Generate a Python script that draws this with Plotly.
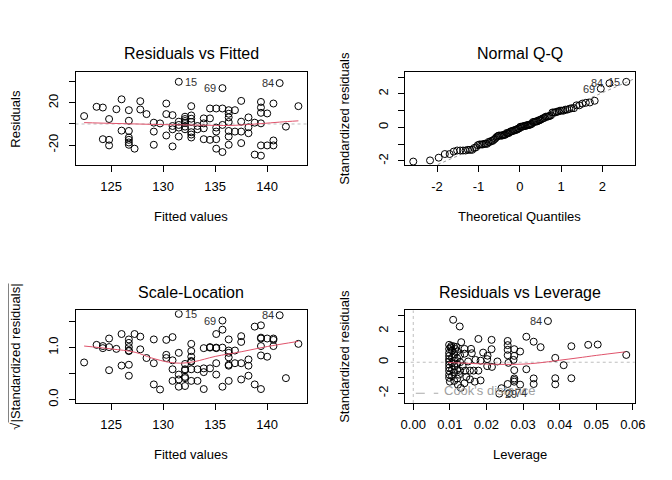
import numpy as np
import plotly.graph_objects as go
from statistics import NormalDist

# ---------------- data ----------------
fitted = [122.4, 123.6, 124.2, 124.8, 124.2, 124.8, 124.8, 125.5, 126.0, 126.7,
          126.7, 126.0, 126.7, 126.7, 126.7, 126.7, 126.7, 127.25, 127.8, 127.8,
          128.4, 129.1, 129.1, 129.1, 129.7, 130.3, 130.3, 130.3, 130.9, 130.9,
          130.9, 130.9, 131.5, 131.5, 131.5, 131.5, 131.5, 132.1, 132.1, 132.1,
          132.1, 132.1, 132.1, 132.7, 132.7, 132.7, 132.7, 132.7, 132.7, 132.7,
          133.3, 133.3, 133.9, 133.9, 133.9, 133.9, 134.5, 134.5, 134.5, 135.1,
          135.1, 135.1, 135.1, 135.1, 135.7, 135.7, 135.7, 135.7, 136.3, 136.3,
          136.3, 136.3, 136.3, 136.3, 136.3, 136.9, 136.9, 137.5, 137.5, 137.5,
          137.5, 138.2, 138.2, 138.2, 138.8, 138.8, 139.4, 139.4, 139.4, 139.4,
          139.4, 139.4, 140.0, 140.0, 140.6, 140.6, 140.6, 141.2, 141.8, 143.0]
resid = [7.5, 16.3, 15.6, 4.7, -14.4, -15.0, -20.3, 14.0, 23.4, 13.1,
         3.1, -6.3, -6.6, -12.8, -15.0, -17.5, -19.7, -23.4, 21.6, 13.75,
         9.4, 1.25, -7.2, -19.7, 0.55, 19.4, 9.4, -10.9, 8.4, -1.9,
         -5.0, -21.25, 40.0, 2.2, -0.9, -3.4, -11.9, 6.9, 4.7, 2.8,
         1.0, -2.5, -5.0, 16.9, 8.1, 5.0, 1.9, -7.8, -10.0, -12.8,
         -1.9, -5.0, 5.3, 0.6, -4.1, -14.4, 14.7, 5.3, -15.0, 14.7,
         -3.4, -7.2, -14.4, -23.4, 34.0, 14.7, -0.9, -26.6, 13.1, 9.7,
         6.25, 1.9, -6.6, -11.9, -19.7, 13.1, -7.2, 21.9, 2.2, -7.2,
         -18.1, 6.25, -3.1, -8.75, 1.25, -29.0, 20.9, 15.6, 10.6, 0.6,
         -20.3, -30.0, 10.0, -20.3, 19.4, -15.6, -20.3, 38.75, -2.5, 16.9]
outlier_names = ["15", "84", "69"]          # largest |residual| first

smooth_rf_x = [122.4, 125.0, 127.5, 130.0, 132.5, 135.0, 136.5, 138.0, 139.5, 141.2, 143.0]
smooth_rf_y = [1.3, 0.6, 0.0, -0.6, -0.9, -1.3, -1.4, -0.6, 0.4, 1.8, 3.0]

smooth_sl_x = [122.4, 125.0, 127.3, 128.9, 130.5, 131.7, 133.0, 135.0, 137.5, 140.0, 143.0]
smooth_sl_y = [1.03, 0.975, 0.91, 0.80, 0.72, 0.70, 0.73, 0.83, 0.92, 1.02, 1.12]

leverage = [0.0109, 0.0127, 0.0368,
            0.0098, 0.0104, 0.0111, 0.0118, 0.0131, 0.0140, 0.0158, 0.0178, 0.0191, 0.0203,
            0.0214, 0.0214, 0.0258, 0.0258, 0.0258, 0.0258, 0.0276, 0.0276, 0.0292, 0.0309,
            0.0329, 0.0348, 0.0432, 0.0478, 0.0504, 0.0582, 0.0388,
            0.0098, 0.0098, 0.0098, 0.0098, 0.0098, 0.0098, 0.0098, 0.0098, 0.0098, 0.0098,
            0.0106, 0.0106, 0.0106, 0.0106, 0.0106,
            0.0112, 0.0112, 0.0112, 0.0112, 0.0112,
            0.0120, 0.0120, 0.0120, 0.0120, 0.0120, 0.0122,
            0.0128, 0.0128, 0.0128, 0.0130,
            0.0140, 0.0160, 0.0150, 0.0170, 0.0184, 0.0142, 0.0155, 0.0165, 0.0178, 0.0145,
            0.0140, 0.0168, 0.0184, 0.0202, 0.0202, 0.0215,
            0.0230, 0.0260, 0.0274, 0.0276, 0.0309,
            0.0276, 0.0276, 0.0276, 0.0258, 0.0292, 0.0329, 0.0329, 0.0241,
            0.0235, 0.0262,
            0.0388, 0.0388, 0.0411, 0.0432,
            0.0102, 0.0115, 0.0125, 0.0100, 0.0135, 0.0155]
std_resid_lev = [2.73, 2.30, 2.65,
                 1.12, 1.05, 1.02, 0.98, 1.29, 0.86, 0.86, 1.50, 0.62, 0.42,
                 1.44, 0.84, 1.37, 1.10, 0.80, 0.45, 0.84, 0.41, 0.69, 1.64,
                 1.32, 0.97, 1.03, 1.12, 1.14, 0.47, 0.28,
                 0.85, 0.60, 0.40, 0.20, 0.05, -0.15, -0.35, -0.55, -0.80, -1.00,
                 0.75, 0.30, -0.05, -0.45, -0.90,
                 0.50, 0.10, -0.25, -0.65, -1.20,
                 0.70, 0.25, -0.10, -0.50, -1.05, -1.45,
                 0.45, 0.00, -0.55, -1.65,
                 0.55, 0.58, 0.05, 0.15, 0.10, -0.54, -0.54, -0.54, -0.54, -0.95,
                 -1.35, -1.25, -1.17, 0.20, -0.25, -0.30,
                 0.05, -0.04, 0.15, -0.51, -0.45,
                 -1.04, -1.14, -1.25, -1.40, -1.44, -1.04, -1.40, -1.67,
                 -2.02, -1.98,
                 -1.03, -1.42, -0.19, -1.03,
                 0.95, 0.85, -0.80, -1.25, -0.25, -1.10]
cook_names = ["84", "74", "29"]             # largest Cook's distance first

smooth_lev_x = [0.0095, 0.015, 0.020, 0.025, 0.030, 0.034, 0.040, 0.045, 0.050, 0.058]
smooth_lev_y = [-0.02, -0.07, -0.12, -0.14, -0.12, -0.05, 0.13, 0.28, 0.44, 0.67]

x_ticks_fit = [125, 130, 135, 140]
x_ticks_qq = [-2, -1, 0, 1, 2]
x_ticks_lev = [0.00, 0.01, 0.02, 0.03, 0.04, 0.05, 0.06]

# ---------------- derived quantities ----------------
f = np.array(fitted)
r = np.array(resid)
n = len(r)
s = np.sqrt(np.sum(r ** 2) / (n - 2))
rs = r / s
sl = np.sqrt(np.abs(rs))
order = np.argsort(rs)
theo = np.empty(n)
nd = NormalDist()
theo[order] = [nd.inv_cdf((i + 0.5) / n) for i in range(n)]

lev = np.array(leverage)
rsl = np.array(std_resid_lev)
cook = rsl ** 2 * lev / (2 * (1 - lev))


def ext(lo, hi, fr=0.04):
    d = hi - lo
    return [lo - fr * d, hi + fr * d]


rng_fx = ext(f.min(), f.max())
rng_ry = ext(*ext(r.min(), r.max(), 0.08))
rng_qx = ext(theo.min(), theo.max())
rng_qy = ext(rs.min(), rs.max() + 0.075 * (rs.max() - rs.min()))
rng_sy = ext(0, sl.max())
rng_lx = ext(0, lev.max())
rng_ly = ext(*ext(rsl.min(), rsl.max(), 0.08))

# ---------------- layout geometry (pixels) ----------------
W, H = 672, 480
FONT = "Liberation Sans"
LX = (65, 301.7)
RX = (401.7, 637.0)
TY = (65, 158.3)
BY = (305, 398.3)
DY = -5  # vertical correction for annotation text


def px(x):
    return x / W


def py(y):
    return 1 - y / H


RED = "#DF536B"
GRAY = "#BEBEBE"

fig = go.Figure()
mk = dict(symbol="circle-open", size=7, color="black", line=dict(width=1, color="black"))

# P1
fig.add_trace(go.Scatter(x=f, y=r, mode="markers", marker=mk, xaxis="x", yaxis="y"))
fig.add_trace(go.Scatter(x=smooth_rf_x, y=smooth_rf_y, mode="lines", line=dict(color=RED, width=1, shape="spline"),
                         xaxis="x", yaxis="y"))
# P2
qq_q = np.percentile(rs, [25, 75])
z_q = np.array([nd.inv_cdf(0.25), nd.inv_cdf(0.75)])
slope = (qq_q[1] - qq_q[0]) / (z_q[1] - z_q[0])
icpt = qq_q[0] - slope * z_q[0]
lx = np.array(rng_qx)
fig.add_trace(go.Scatter(x=lx, y=icpt + slope * lx, mode="lines", line=dict(color="#999999", width=1, dash="dot"),
                         xaxis="x2", yaxis="y2"))
fig.add_trace(go.Scatter(x=theo, y=rs, mode="markers", marker=mk, xaxis="x2", yaxis="y2"))
# P3
fig.add_trace(go.Scatter(x=f, y=sl, mode="markers", marker=mk, xaxis="x3", yaxis="y3"))
fig.add_trace(go.Scatter(x=smooth_sl_x, y=smooth_sl_y, mode="lines", line=dict(color=RED, width=1, shape="spline"),
                         xaxis="x3", yaxis="y3"))
# P4
fig.add_trace(go.Scatter(x=lev, y=rsl, mode="markers", marker=mk, xaxis="x4", yaxis="y4"))
fig.add_trace(go.Scatter(x=smooth_lev_x, y=smooth_lev_y, mode="lines", line=dict(color=RED, width=1, shape="spline"),
                         xaxis="x4", yaxis="y4"))

axis_common = dict(showline=True, mirror=True, linecolor="black", linewidth=1, ticks="outside", ticklen=6,
                   tickwidth=1, tickcolor="black", showgrid=False, zeroline=False,
                   tickfont=dict(family=FONT, size=13, color="black"), ticklabelstandoff=3)
yaxis_common = dict(axis_common, tickangle=-90, ticklabelstandoff=5)

layout = dict(
    width=W, height=H, margin=dict(l=0, r=0, t=0, b=0), autosize=False,
    paper_bgcolor="white", plot_bgcolor="white", showlegend=False,
    font=dict(family=FONT, size=13, color="black"),
    xaxis=dict(axis_common, domain=[px(LX[0]), px(LX[1])], range=rng_fx, anchor="y",
               tickvals=x_ticks_fit, ticktext=[str(v) for v in x_ticks_fit]),
    yaxis=dict(yaxis_common, domain=[py(TY[1]), py(TY[0])], range=rng_ry, anchor="x",
               tickvals=[-20, 0, 20, 40], ticktext=["-20", "", "20", ""]),
    xaxis2=dict(axis_common, domain=[px(RX[0]), px(RX[1])], range=rng_qx, anchor="y2",
                tickvals=x_ticks_qq, ticktext=[str(v) for v in x_ticks_qq]),
    yaxis2=dict(yaxis_common, domain=[py(TY[1]), py(TY[0])], range=rng_qy, anchor="x2",
                tickvals=[-2, -1, 0, 1, 2, 3], ticktext=["-2", "", "0", "", "2", ""]),
    xaxis3=dict(axis_common, domain=[px(LX[0]), px(LX[1])], range=rng_fx, anchor="y3",
                tickvals=x_ticks_fit, ticktext=[str(v) for v in x_ticks_fit]),
    yaxis3=dict(yaxis_common, domain=[py(BY[1]), py(BY[0])], range=rng_sy, anchor="x3",
                tickvals=[0, 0.5, 1.0, 1.5], ticktext=["0.0", "", "1.0", ""]),
    xaxis4=dict(axis_common, domain=[px(RX[0]), px(RX[1])], range=rng_lx, anchor="y4",
                tickvals=x_ticks_lev, ticktext=["%.2f" % v for v in x_ticks_lev]),
    yaxis4=dict(yaxis_common, domain=[py(BY[1]), py(BY[0])], range=rng_ly, anchor="x4",
                tickvals=[-2, -1, 0, 1, 2, 3], ticktext=["-2", "", "0", "", "2", ""]),
)
fig.update_layout(**layout)

shapes = [
    dict(type="line", xref="x domain", x0=0, x1=1, yref="y", y0=0, y1=0, layer="below",
         line=dict(color=GRAY, width=1, dash="dot")),
    dict(type="line", xref="x4 domain", x0=0, x1=1, yref="y4", y0=0, y1=0, layer="below",
         line=dict(color=GRAY, width=1, dash="dot")),
    dict(type="line", xref="x4", x0=0, x1=0, yref="y4 domain", y0=0, y1=1, layer="below",
         line=dict(color=GRAY, width=1, dash="dot")),
    dict(type="line", xref="paper", x0=px(413), x1=px(436), yref="paper", y0=py(388.5), y1=py(388.5),
         line=dict(color="#AAAAAA", width=1, dash="dash")),
]
fig.update_layout(shapes=shapes)

ann = []


def title(text, xc, yc):
    ann.append(dict(text=text, x=px(xc), y=py(yc + DY), xref="paper", yref="paper", showarrow=False,
                    xanchor="center", yanchor="middle", font=dict(family=FONT, size=16, color="black")))


def label(text, xc, yc, angle=0):
    ann.append(dict(text=text, x=px(xc), y=py(yc + (DY if angle == 0 else 0)), xref="paper", yref="paper",
                    showarrow=False, xanchor="center", yanchor="middle", textangle=angle,
                    font=dict(family=FONT, size=13, color="black")))


title("Residuals vs Fitted", sum(LX) / 2, 51)
title("Normal Q-Q", sum(RX) / 2, 51)
title("Scale-Location", sum(LX) / 2, 292)
title("Residuals vs Leverage", sum(RX) / 2, 292)
label("Fitted values", sum(LX) / 2, 215)
label("Theoretical Quantiles", sum(RX) / 2, 215)
label("Fitted values", sum(LX) / 2, 455)
label("Leverage", sum(RX) / 2, 455)
label("Residuals", LX[0] - 61, sum(TY) / 2, -90)
label("Standardized residuals", RX[0] - 61, sum(TY) / 2, -90)
label("\u221a<span style='text-decoration:overline'>|Standardized residuals|</span>", LX[0] - 61, sum(BY) / 2, -90)
label("Standardized residuals", RX[0] - 61, sum(BY) / 2, -90)

ann.append(dict(text="Cook's distance", x=px(440), y=py(390.5 + DY), xref="paper", yref="paper", showarrow=False,
                xanchor="left", yanchor="middle", font=dict(family=FONT, size=13, color="#A0A0A0")))


def id_label(txt, x, y, xr, yr, right):
    ann.append(dict(text=txt, x=x, y=y, xref=xr, yref=yr, showarrow=False,
                    xanchor="left" if right else "right", yanchor="middle", xshift=4 if right else -4,
                    font=dict(family=FONT, size=11, color="#333333")))


top_r = np.argsort(-np.abs(r))[:3]
mid_f = (f.min() + f.max()) / 2
mid_q = (theo.min() + theo.max()) / 2
for name, i in zip(outlier_names, top_r):
    id_label(name, f[i], r[i], "x", "y", f[i] < mid_f)
    id_label(name, theo[i], rs[i], "x2", "y2", theo[i] < mid_q)
    id_label(name, f[i], sl[i], "x3", "y3", f[i] < mid_f)

top_c = np.argsort(-cook)[:3]
mid_l = (lev.min() + lev.max()) / 2
for name, i in zip(cook_names, top_c):
    id_label(name, lev[i], rsl[i], "x4", "y4", lev[i] < mid_l)

fig.update_layout(annotations=ann)
fig.write_html("out.html")
